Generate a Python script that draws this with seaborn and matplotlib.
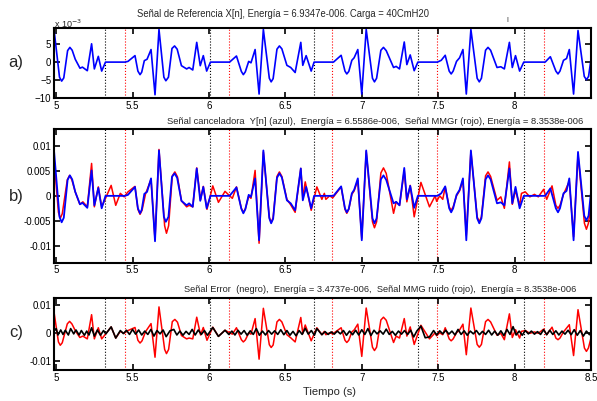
import matplotlib
matplotlib.use("Agg")
import matplotlib.pyplot as plt
import pandas as pd
import seaborn as sns

# --- data: (time in s, value) ---
# reference / canceller signal X[n] = Y[n] (blue)
ref_pts = [
    (4.986, 0.0091), (5.022, -0.0042), (5.036, -0.0053), (5.05, -0.0044), (5.075, 0.0032),
    (5.09, 0.0041), (5.105, 0.0033), (5.125, 0.0008), (5.156, -0.0017), (5.172, -0.0014),
    (5.204, -0.0024), (5.232, 0.0051), (5.25, -0.0019), (5.276, 0.0016), (5.298, -0.0025),
    (5.323, 0.0), (5.45, 0.0), (5.47, 0.0002), (5.516, 0.0018), (5.535, -0.0025),
    (5.549, -0.0035), (5.56, -0.0028), (5.577, 0.0004), (5.595, 0.0008), (5.621, 0.0035),
    (5.647, -0.0091), (5.673, 0.0091), (5.705, -0.0042), (5.718, -0.0052), (5.735, -0.0042),
    (5.758, 0.0038), (5.775, 0.0045), (5.792, 0.0036), (5.82, -0.0010), (5.854, -0.0019),
    (5.87, -0.0015), (5.894, -0.0022), (5.92, 0.0055), (5.943, -0.0010), (5.963, 0.0018),
    (5.985, -0.0025), (6.01, 0.0),
    (6.135, 0.0), (6.18, 0.0017), (6.212, -0.0026), (6.225, -0.0035), (6.238, -0.0027),
    (6.26, 0.0002), (6.275, -0.0002), (6.302, 0.0035), (6.328, -0.0089), (6.356, 0.0091),
    (6.395, -0.0045), (6.407, -0.0055), (6.42, -0.0046), (6.445, 0.0036), (6.461, 0.0045),
    (6.477, 0.0037), (6.51, -0.0009), (6.535, -0.0015), (6.564, -0.0029), (6.601, 0.0055),
    (6.614, -0.0009), (6.636, 0.0018), (6.669, -0.0025), (6.688, 0.0),
    (6.815, 0.0), (6.865, 0.0019), (6.89, -0.0025), (6.902, -0.0033), (6.915, -0.0026),
    (6.935, 0.0005), (6.95, 0.0012), (6.974, 0.0035), (7.0, -0.0089), (7.029, 0.0091),
    (7.07, -0.0045), (7.083, -0.0055), (7.097, -0.0045), (7.125, 0.0033), (7.142, 0.0041),
    (7.16, 0.0032), (7.208, -0.0015), (7.225, -0.0012), (7.247, -0.0019), (7.278, 0.0056),
    (7.295, -0.0007), (7.317, 0.0020), (7.343, -0.0024), (7.367, 0.0),
    (7.495, 0.0), (7.52, 0.0005), (7.546, 0.0019), (7.572, -0.0025), (7.585, -0.0033),
    (7.598, -0.0025), (7.62, 0.0002), (7.64, 0.0012), (7.662, 0.0035), (7.684, -0.0089),
    (7.714, 0.0091), (7.755, -0.0045), (7.769, -0.0055), (7.783, -0.0045), (7.81, 0.0033),
    (7.826, 0.0041), (7.843, 0.0033), (7.885, -0.0015), (7.91, -0.0013), (7.933, -0.0019),
    (7.966, 0.0055), (7.985, -0.0015), (8.006, 0.0018), (8.033, -0.0025), (8.06, 0.0),
    (8.2, 0.0), (8.234, 0.0015), (8.27, -0.0025), (8.284, -0.0033), (8.297, -0.0025),
    (8.32, 0.0005), (8.34, 0.0010), (8.358, 0.0035), (8.386, -0.0089), (8.415, 0.0088),
    (8.456, -0.0040), (8.47, -0.0049), (8.484, -0.0040), (8.5, 0.0008),
]

# MMG noise signal (red)
mmg_pts = [
    (4.986, 0.0075), (5.015, -0.0033), (5.027, -0.0045), (5.04, -0.0036), (5.073, 0.0032),
    (5.088, 0.0041), (5.103, 0.0032), (5.125, 0.0008), (5.155, -0.0017), (5.175, -0.0012),
    (5.204, -0.0022), (5.232, 0.0065), (5.25, -0.0022), (5.276, 0.0018), (5.298, -0.0022),
    (5.323, -0.0005), (5.36, 0.0021), (5.39, -0.0019), (5.42, 0.0005), (5.445, -0.0002),
    (5.47, 0.0008), (5.516, 0.0019), (5.535, -0.0027), (5.549, -0.0037), (5.562, -0.0029),
    (5.585, 0.0004), (5.621, 0.0033), (5.647, -0.0088), (5.673, 0.0093), (5.71, -0.0060),
    (5.722, -0.0075), (5.736, -0.0060), (5.76, 0.0040), (5.777, 0.0048), (5.794, 0.0038),
    (5.82, -0.0010), (5.854, -0.0022), (5.87, -0.0019), (5.894, -0.0022), (5.92, 0.0056),
    (5.945, -0.0008), (5.963, 0.0019), (5.987, -0.0027), (6.025, 0.0020), (6.062, -0.0013),
    (6.105, 0.0009), (6.153, -0.0005), (6.18, 0.0018), (6.212, -0.0025), (6.225, -0.0033),
    (6.238, -0.0026), (6.26, -0.0001), (6.275, -0.0005), (6.302, 0.0051), (6.328, -0.0095),
    (6.356, 0.0088), (6.395, -0.0043), (6.407, -0.0053), (6.42, -0.0044), (6.445, 0.0039),
    (6.461, 0.0048), (6.477, 0.0039), (6.51, -0.0007), (6.535, -0.0018), (6.564, -0.0033),
    (6.601, 0.0055), (6.614, -0.0003), (6.63, 0.0028), (6.669, -0.0029), (6.706, 0.0018),
    (6.739, -0.0007), (6.755, 0.0005), (6.765, -0.0007), (6.79, 0.0), (6.81, -0.0004),
    (6.865, 0.0018), (6.89, -0.0027), (6.902, -0.0035), (6.915, -0.0027), (6.935, 0.0003),
    (6.95, 0.0010), (6.974, 0.0031), (7.0, -0.0085), (7.029, 0.0089), (7.07, -0.0052),
    (7.083, -0.0064), (7.097, -0.0052), (7.125, 0.0046), (7.142, 0.0056), (7.16, 0.0045),
    (7.208, -0.0035), (7.225, -0.0012), (7.247, -0.0019), (7.278, 0.0051), (7.295, -0.0012),
    (7.317, 0.0021), (7.343, -0.0042), (7.387, 0.0027), (7.443, -0.0022), (7.48, 0.0),
    (7.49, -0.0011), (7.51, 0.0), (7.53, -0.0007), (7.546, 0.0018), (7.572, -0.0022),
    (7.585, -0.0029), (7.598, -0.0022), (7.62, 0.0), (7.64, 0.0010), (7.662, 0.0031),
    (7.684, -0.0079), (7.714, 0.0089), (7.755, -0.0042), (7.769, -0.0052), (7.783, -0.0042),
    (7.81, 0.0040), (7.826, 0.0048), (7.843, 0.0039), (7.885, -0.0009), (7.91, -0.0002),
    (7.933, -0.0025), (7.966, 0.0068), (7.985, -0.0017), (8.006, 0.0011), (8.033, -0.0019),
    (8.045, 0.0005), (8.07, 0.0008), (8.1, -0.0002), (8.13, 0.0003), (8.155, -0.0002),
    (8.19, 0.0013), (8.21, -0.0007), (8.245, 0.0020), (8.27, -0.0019), (8.284, -0.0025),
    (8.297, -0.0019), (8.32, 0.0003), (8.358, 0.0029), (8.386, -0.0082), (8.415, 0.0083),
    (8.457, -0.0055), (8.47, -0.0067), (8.483, -0.0055), (8.5, -0.0019),
]

# error signal (black)
err_t = [4.986, 5.0, 5.012, 5.03, 5.045, 5.06, 5.08, 5.095, 5.115, 5.13,
         5.15, 5.165, 5.185, 5.2, 5.215, 5.232, 5.25, 5.27, 5.29, 5.31,
         5.325, 5.36, 5.39, 5.42, 5.44, 5.46, 5.48, 5.5, 5.52, 5.54,
         5.56, 5.58, 5.6, 5.62, 5.64, 5.66, 5.68, 5.7, 5.72, 5.745,
         5.77, 5.79, 5.81, 5.83, 5.85, 5.87, 5.89, 5.91, 5.93, 5.95,
         5.97, 5.99, 6.025, 6.062, 6.105, 6.13, 6.15, 6.17, 6.19, 6.21,
         6.23, 6.25, 6.27, 6.29, 6.31, 6.33, 6.35, 6.37, 6.39, 6.41,
         6.43, 6.45, 6.47, 6.49, 6.51, 6.53, 6.55, 6.57, 6.59, 6.61,
         6.63, 6.65, 6.67, 6.69, 6.706, 6.739, 6.76, 6.78, 6.8, 6.82,
         6.84, 6.86, 6.88, 6.9, 6.92, 6.94, 6.96, 6.98, 7.0, 7.02,
         7.04, 7.06, 7.08, 7.1, 7.12, 7.14, 7.16, 7.18, 7.2, 7.22,
         7.24, 7.26, 7.28, 7.3, 7.32, 7.34, 7.36, 7.387, 7.415, 7.443,
         7.47, 7.49, 7.51, 7.53, 7.55, 7.57, 7.59, 7.61, 7.63, 7.65,
         7.67, 7.69, 7.71, 7.73, 7.75, 7.77, 7.79, 7.81, 7.83, 7.85,
         7.87, 7.89, 7.91, 7.93, 7.95, 7.97, 7.99, 8.01, 8.03, 8.05,
         8.07, 8.09, 8.11, 8.13, 8.15, 8.17, 8.19, 8.21, 8.23, 8.25,
         8.27, 8.29, 8.31, 8.33, 8.35, 8.37, 8.39, 8.41, 8.43, 8.45,
         8.47, 8.49, 8.5]
err_v = [0.0005, 0.0015, -0.0008, 0.0010, -0.0006, 0.0009, -0.0008, 0.0015, -0.0004, 0.0010,
         -0.0008, 0.0008, -0.0009, 0.0006, -0.0008, 0.0018, -0.0012, 0.0010, -0.0009, 0.0008,
         -0.0004, 0.0021, -0.0019, 0.0008, -0.0003, 0.0009, -0.0006, 0.0012, -0.0005, 0.0010,
         -0.0008, 0.0006, -0.0006, 0.0012, -0.0012, 0.0008, -0.0004, 0.0010, -0.0014, 0.0007,
         0.0012, -0.0008, 0.0006, -0.0009, 0.0005, -0.0006, 0.0012, -0.0008, 0.0010, -0.0006,
         0.0008, -0.0009, 0.0019, -0.0013, 0.0009, -0.0006, 0.0006, -0.0008, 0.0009, -0.0005,
         0.0008, -0.0009, 0.0007, -0.0006, 0.0015, -0.0009, 0.0006, -0.0008, 0.0008, -0.0005,
         0.0007, -0.0006, 0.0011, -0.0007, 0.0008, -0.0009, 0.0005, -0.0011, 0.0008, -0.0006,
         0.0016, -0.0005, 0.0008, -0.0009, 0.0015, -0.0007, 0.0004, -0.0006, 0.0003, -0.0005,
         0.0006, -0.0004, 0.0008, -0.0009, 0.0006, -0.0007, 0.0009, -0.0008, 0.0011, -0.0006,
         0.0015, -0.0010, 0.0009, -0.0004, 0.0007, -0.0005, 0.0013, -0.0006, 0.0005, -0.0009,
         0.0006, -0.0005, 0.0008, -0.0006, 0.0009, -0.0015, 0.0006, 0.0024, -0.0018, -0.0015,
         0.0008, -0.0008, 0.0007, -0.0004, 0.0009, -0.0005, 0.0006, -0.0008, 0.0012, -0.0006,
         0.0007, -0.0009, 0.0006, -0.0004, 0.0008, -0.0007, 0.0005, -0.0006, 0.0009, -0.0008,
         0.0006, -0.0009, 0.0007, -0.0010, 0.0012, -0.0006, 0.0022, -0.0008, 0.0006, -0.0009,
         0.0008, -0.0004, 0.0006, -0.0005, 0.0004, -0.0006, 0.0011, -0.0007, 0.0009, -0.0006,
         0.0007, -0.0008, 0.0006, -0.0005, 0.0009, -0.0007, 0.0011, -0.0009, 0.0008, -0.0012,
         0.0006, -0.0007, 0.0004]

# cycle markers
black_marks = [5.323, 6.010, 6.688, 7.371, 8.063]
red_marks = [5.449, 6.128, 6.808, 7.491, 8.192]

xticks = [5, 5.5, 6, 6.5, 7, 7.5, 8, 8.5]
xtick_labels = ["5", "5.5", "6", "6.5", "7", "7.5", "8", "8.5"]
yticks_a = [-10, -5, 0, 5]
yticks_b = [-0.01, -0.005, 0, 0.005, 0.01]
ytick_labels_b = ["-0.01", "-0.005", "0", "0.005", "0.01"]
yticks_c = [-0.01, 0, 0.01]
ytick_labels_c = ["-0.01", "0", "0.01"]

title_a = "Señal de Referencia X[n], Energía = 6.9347e-006. Carga = 40CmH20"
title_b = ("Señal canceladora  Y[n] (azul),  Energía = 6.5586e-006,  "
           "Señal MMGr (rojo), Energía = 8.3538e-006")
title_c = ("Señal Error  (negro),  Energía = 3.4737e-006,  "
           "Señal MMG ruido (rojo),  Energía = 8.3538e-006")

ref = pd.DataFrame(ref_pts, columns=['t', 'v'])
ref['v_milli'] = ref['v'] * 1000
mmg = pd.DataFrame(mmg_pts, columns=['t', 'v'])
err = pd.DataFrame({'t': err_t, 'v': err_v})

# --- style ---
sns.set_theme(style="ticks")
plt.rcParams['font.family'] = ['Liberation Sans', 'DejaVu Sans']
plt.rcParams.update({
    'xtick.direction': 'in', 'ytick.direction': 'in',
    'xtick.top': True, 'ytick.right': True,
    'xtick.major.size': 4, 'ytick.major.size': 4,
    'xtick.major.width': 1.2, 'ytick.major.width': 1.2,
    'xtick.labelsize': 7, 'ytick.labelsize': 7,
    'axes.linewidth': 1.5,
    'lines.solid_joinstyle': 'round',
})

fig = plt.figure(figsize=(5.97, 4.01), dpi=100)
W, H = 597.0, 401.0


def box(left, top, right, bottom):
    return [left / W, 1 - bottom / H, (right - left) / W, (bottom - top) / H]


ax_a = fig.add_axes(box(54, 28, 591, 98))
ax_b = fig.add_axes(box(54, 129, 591, 262.7))
ax_c = fig.add_axes(box(54, 298.3, 591, 370))

sns.lineplot(data=ref, x='t', y='v_milli', ax=ax_a, color='#0000ff', lw=1.2, estimator=None)
sns.lineplot(data=mmg, x='t', y='v', ax=ax_b, color='#ff0000', lw=1.1, estimator=None)
sns.lineplot(data=ref, x='t', y='v', ax=ax_b, color='#0000ff', lw=1.3, estimator=None)
sns.lineplot(data=mmg, x='t', y='v', ax=ax_c, color='#ff0000', lw=1.1, estimator=None)
sns.lineplot(data=err, x='t', y='v', ax=ax_c, color='black', lw=1.2, estimator=None)

for ax in (ax_a, ax_b, ax_c):
    for t in black_marks:
        ax.axvline(t, color='black', ls=':', lw=0.8, zorder=0)
    for t in red_marks:
        ax.axvline(t, color='#ff0000', ls=':', lw=0.8, zorder=0)
    ax.set_xlabel('')
    ax.set_ylabel('')
    ax.set_xlim(4.986, 8.5)
    for s in ax.spines.values():
        s.set_color('black')
    ax.tick_params(colors='black', pad=2)

ax_a.set_ylim(-10, 9.5)
ax_a.set_xticks(xticks[:-1])
ax_a.set_xticklabels(xtick_labels[:-1])
ax_a.set_yticks(yticks_a)

ax_b.set_ylim(-0.0134, 0.0134)
ax_b.set_xticks(xticks[:-1])
ax_b.set_xticklabels(xtick_labels[:-1])
ax_b.set_yticks(yticks_b)
ax_b.set_yticklabels(ytick_labels_b)

ax_c.set_ylim(-0.0134, 0.0124)
ax_c.set_xticks(xticks)
ax_c.set_xticklabels(xtick_labels)
ax_c.set_yticks(yticks_c)
ax_c.set_yticklabels(ytick_labels_c)

# titles and labels placed as in the reference
fig.text(137 / W, 1 - 14 / H, title_a, fontsize=6.85, va='center', ha='left')
fig.text(167 / W, 1 - 121 / H, title_b, fontsize=6.75, va='center', ha='left')
fig.text(184 / W, 1 - 290 / H, title_c, fontsize=6.7, va='center', ha='left')
fig.text(54 / W, 1 - 24 / H, r'x 10$^{-3}$', fontsize=6.5, va='center', ha='left')
fig.text(507 / W, 1 - 21 / H, 'I', fontsize=5, va='center', ha='center')

fig.text(16 / W, 1 - 62 / H, 'a)', fontsize=12, va='center', ha='center')
fig.text(16 / W, 1 - 197 / H, 'b)', fontsize=12, va='center', ha='center')
fig.text(16 / W, 1 - 333 / H, 'c)', fontsize=12, va='center', ha='center')
fig.text(330 / W, 1 - 392 / H, 'Tiempo (s)', fontsize=8, va='center', ha='center')

fig.savefig('out.png', dpi=100, facecolor='white')
